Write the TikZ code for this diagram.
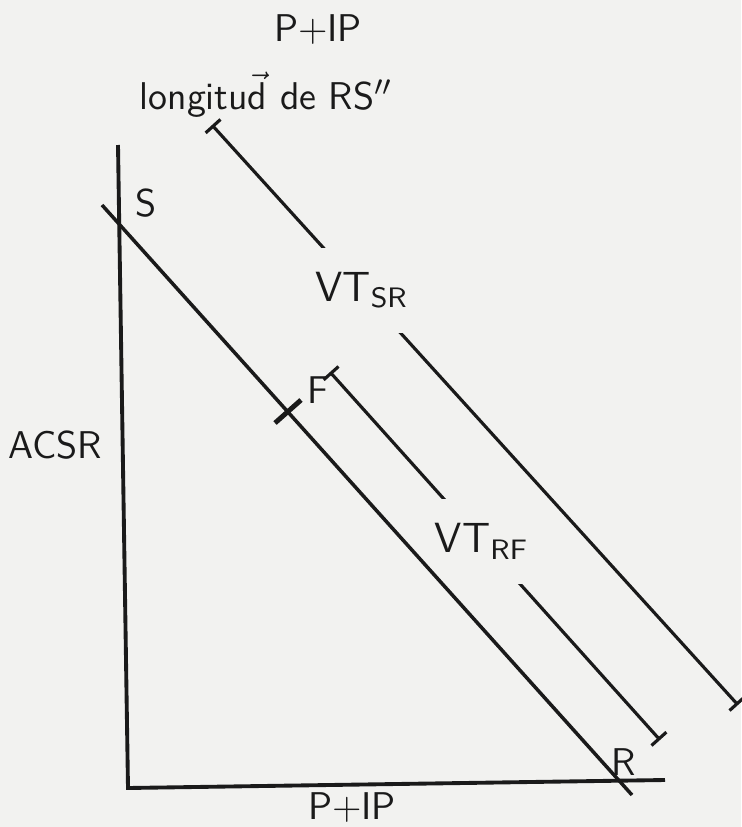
\documentclass[tikz,border=0pt]{standalone}
\usepackage{amsmath}
\usepackage{xcolor}
\usepackage{tikz}
\usetikzlibrary{arrows.meta}
\definecolor{paper}{HTML}{F2F2F0}
\definecolor{ink}{HTML}{1A1A1A}
\tikzset{
  sketchaxis/.style={draw=ink,line width=1.1pt},
  sketchline/.style={draw=ink,line width=1pt},
  sketchspan/.style={draw=ink,line width=0.9pt,{Bar[width=2mm,line width=0.9pt]}-{Bar[width=2mm,line width=0.9pt]}},
  sketchlabel/.style={font=\sffamily\fontsize{11}{13}\selectfont,text=ink,inner sep=1pt},
  spanlabel/.style={font=\sffamily\fontsize{12}{14}\selectfont,text=ink,fill=paper,inner xsep=1pt,inner ysep=7pt}
}

\begin{document}
\begin{tikzpicture}[x=0.01cm,y=-0.01cm]
  \fill[paper] (0,0) rectangle (741,827);
  \useasboundingbox (0,0) rectangle (741,827);
  % segmentos
  \coordinate (srA) at (212,125);
  \coordinate (srB) at (738,705);
  \draw[sketchspan] (srA) -- node[spanlabel,pos=0.285] (vtsr) {VT$_{\text{SR}}$} (srB);
  \coordinate (rfA) at (330,372);
  \coordinate (rfB) at (660,740);
  \draw[sketchspan] (rfA) -- node[spanlabel,pos=0.46] (vtrf) {VT$_{\text{RF}}$} (rfB);
  % ejes
  \coordinate (ytop) at (118,145);
  \coordinate (orig) at (128,788);
  \coordinate (xend) at (665,780);
  \draw[sketchaxis] (ytop) -- (orig) -- (xend);
  % recta S--R
  \coordinate (sA) at (102,205);
  \coordinate (rB) at (632,795);
  \draw[sketchline] (sA) -- (rB);
  \coordinate (fx1) at (275,423);
  \coordinate (fx2) at (301,400);
  \draw[sketchline,line width=1.4pt] (fx1) -- (fx2);
  % etiquetas
  \node[sketchlabel] (ptop) at (318,30) {P+IP};
  \node[sketchlabel] (lon) at (266,95) {longitu$\vec{\text{d}}$ de RS$''$};
  \node[sketchlabel] (s) at (146,203) {S};
  \node[sketchlabel] (f) at (318,390) {F};
  \node[sketchlabel] (r) at (624,762) {R};
  \node[sketchlabel] (acsr) at (55,445) {ACSR};
  \node[sketchlabel] (pbot) at (352,808) {P+IP};
\end{tikzpicture}
\end{document}
